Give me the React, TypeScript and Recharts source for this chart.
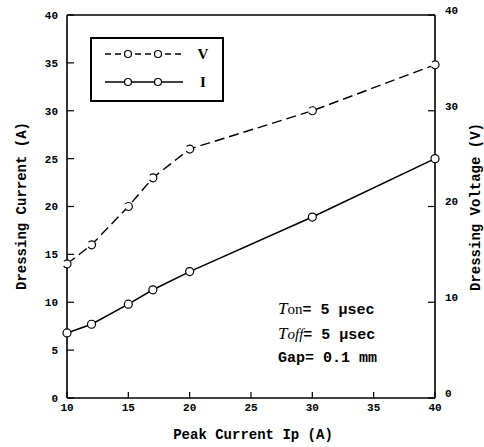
import React from 'react';
import { LineChart, Line, XAxis, YAxis, ReferenceLine } from 'recharts';

const peakCurrent = [10, 12, 15, 17, 20, 30, 40];
const dressingVoltage = [14, 16, 20, 23, 26, 30, 34.8];
const dressingCurrent = [6.8, 7.7, 9.8, 11.3, 13.2, 18.9, 25];

const xTicks = [10, 15, 20, 25, 30, 35, 40];
const leftTicks = [0, 5, 10, 15, 20, 25, 30, 35, 40];
const rightTicks = [0, 10, 20, 30, 40];

const data = peakCurrent.map((ip, i) => ({
  ip,
  V: dressingVoltage[i],
  I: dressingCurrent[i],
}));

const mono = '"Liberation Mono", "DejaVu Sans Mono", monospace';
const serif = '"Liberation Serif", serif';
const tickStyle = { fill: '#000', fontSize: 11, fontFamily: mono, fontWeight: 700 };
const dot = { r: 4, fill: '#fff', stroke: '#000', strokeWidth: 1.2 };

// legend drawn as a boxed key like the original figure
const LegendBox = () => (
  <div
    style={{
      position: 'absolute',
      left: 90,
      top: 37,
      width: 134,
      height: 65,
      border: '2px solid #000',
      boxSizing: 'border-box',
      background: '#fff',
    }}
  >
    <svg width={130} height={61} style={{ display: 'block' }}>
      <line x1={13} x2={91} y1={15} y2={15} stroke="#000" strokeWidth={1.4} strokeDasharray="6 4" />
      <circle cx={36} cy={15} r={3.5} fill="#fff" stroke="#000" strokeWidth={1.2} />
      <circle cx={66} cy={15} r={3.5} fill="#fff" stroke="#000" strokeWidth={1.2} />
      <text x={111} y={20} fontFamily={serif} fontSize={15} fontWeight={700} textAnchor="middle">V</text>
      <line x1={13} x2={91} y1={43} y2={43} stroke="#000" strokeWidth={1.6} />
      <circle cx={36} cy={43} r={3.5} fill="#fff" stroke="#000" strokeWidth={1.2} />
      <circle cx={66} cy={43} r={3.5} fill="#fff" stroke="#000" strokeWidth={1.2} />
      <text x={111} y={48} fontFamily={serif} fontSize={15} fontWeight={700} textAnchor="middle">I</text>
    </svg>
  </div>
);

const titleStyle: React.CSSProperties = {
  position: 'absolute',
  fontFamily: mono,
  fontWeight: 700,
  fontSize: 14,
  whiteSpace: 'nowrap',
  color: '#000',
};

export default function App() {
  return (
    <div style={{ position: 'absolute', left: 0, top: 0, width: 484, height: 447, background: '#fff' }}>
      <LineChart width={484} height={447} data={data} margin={{ top: 15, right: 0, bottom: 0, left: 0 }}>
        <XAxis
          dataKey="ip"
          type="number"
          domain={[10, 40]}
          ticks={xTicks}
          height={49}
          tick={tickStyle}
          tickSize={-6}
          tickMargin={11}
          axisLine={{ stroke: '#000', strokeWidth: 1.6 }}
          tickLine={{ stroke: '#000', strokeWidth: 1.2 }}
        />
        <YAxis
          yAxisId="left"
          domain={[0, 40]}
          ticks={leftTicks}
          width={67}
          tick={tickStyle}
          tickSize={-7}
          tickMargin={16}
          axisLine={{ stroke: '#000', strokeWidth: 1.6 }}
          tickLine={{ stroke: '#000', strokeWidth: 1.2 }}
        />
        <YAxis
          yAxisId="right"
          orientation="right"
          domain={[0, 40]}
          ticks={rightTicks}
          width={49}
          tick={{ ...tickStyle, dy: -5 }}
          tickSize={-7}
          tickMargin={17}
          axisLine={{ stroke: '#000', strokeWidth: 1.6 }}
          tickLine={{ stroke: '#000', strokeWidth: 1.2 }}
        />
        <ReferenceLine yAxisId="left" y={40} stroke="#000" strokeWidth={1.6} />
        <Line
          yAxisId="right"
          dataKey="V"
          stroke="#000"
          strokeWidth={1.4}
          strokeDasharray="10 5"
          dot={dot}
          activeDot={false}
          isAnimationActive={false}
        />
        <Line
          yAxisId="left"
          dataKey="I"
          stroke="#000"
          strokeWidth={1.6}
          dot={dot}
          activeDot={false}
          isAnimationActive={false}
        />
      </LineChart>

      <LegendBox />

      <div style={{ ...titleStyle, left: 22, top: 206, transform: 'translate(-50%, -50%) rotate(-90deg)' }}>
        Dressing Current (A)
      </div>
      <div style={{ ...titleStyle, left: 476, top: 207, transform: 'translate(-50%, -50%) rotate(-90deg)' }}>
        Dressing Voltage (V)
      </div>
      <div style={{ ...titleStyle, left: 253, top: 435, transform: 'translate(-50%, -50%)' }}>
        Peak Current Ip (A)
      </div>

      <div style={{ ...titleStyle, fontSize: 15, left: 278, top: 297, lineHeight: '23px' }}>
        <div>
          <span style={{ fontFamily: serif, fontStyle: 'italic', fontWeight: 400, fontSize: 17 }}>T</span>
          <span style={{ fontFamily: serif, fontWeight: 400 }}>on</span>= 5 μsec
        </div>
        <div>
          <span style={{ fontFamily: serif, fontStyle: 'italic', fontWeight: 400, fontSize: 17 }}>T</span>
          <span style={{ fontFamily: serif, fontStyle: 'italic', fontWeight: 400 }}>off</span>= 5 μsec
        </div>
        <div>Gap= 0.1 mm</div>
      </div>
    </div>
  );
}
